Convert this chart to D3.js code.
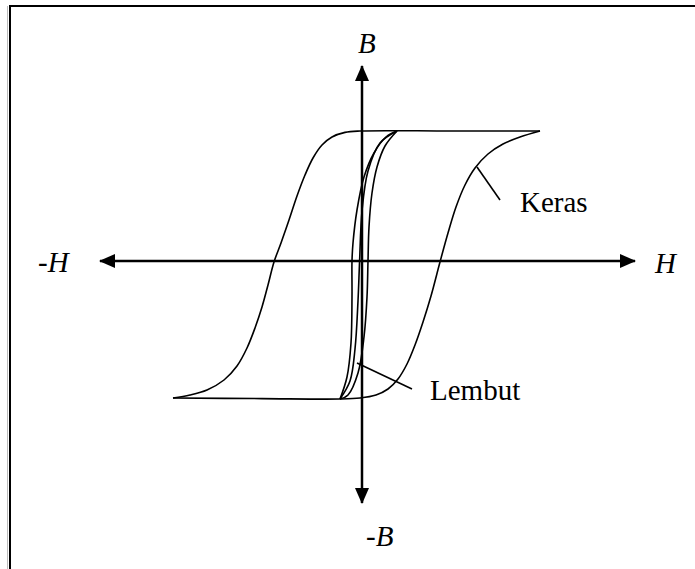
<!DOCTYPE html>
<html>
<head>
<meta charset="utf-8">
<script src="https://cdn.jsdelivr.net/npm/d3@7"></script>
<style>
  body { margin: 0; background: #fff; }
  svg { display: block; }
  .lbl { font-family: "Liberation Serif", "Times New Roman", serif; font-size: 29px; fill: #000; }
</style>
</head>
<body>
<svg id="chart" width="695" height="569"></svg>
<script>
// H (x) and B (y) in arbitrary units
const axisExtent = { hMin: -13.1, hMax: 13.65, bMin: -12.1, bMax: 9.75 }

// hard material ("Keras"): wide loop
// upper stroke: right tip -> along saturation -> down the left side
const hardTopH = [8.9, 4.4, -0.1, -0.85, -1.5, -2.0, -2.45, -2.85, -3.25, -3.65, -4.05, -4.4, -4.7, -5.0, -5.35, -5.75, -6.25, -6.9, -7.75, -8.6, -9.45]
const hardTopB = [6.5, 6.5, 6.5, 6.43, 6.2, 5.8, 5.15, 4.3, 3.25, 2.05, 0.9, -0.05, -1.2, -2.3, -3.35, -4.35, -5.25, -5.95, -6.45, -6.7, -6.85]
// lower stroke: left tip -> along saturation -> up the right side
const hardBotH = [-9.45, -5.0, -1.1, -0.1, 0.7, 1.3, 1.8, 2.25, 2.65, 3.05, 3.45, 3.9, 4.3, 4.7, 5.15, 5.65, 6.3, 7.05, 7.9, 8.9]
const hardBotB = [-6.85, -6.88, -6.9, -6.85, -6.7, -6.4, -5.9, -5.15, -4.2, -3.05, -1.75, -0.05, 1.4, 2.7, 3.8, 4.65, 5.35, 5.85, 6.2, 6.5]

// soft material ("Lembut"): narrow loop, three strokes
const softLeftH = [1.75, 1.2, 0.6, 0.1, -0.25, -0.45, -0.5, -0.5, -0.55, -0.75, -1.1]
const softLeftB = [6.5, 6.2, 5.4, 4.2, 2.55, 0.9, 0.0, -1.8, -4.1, -5.8, -6.9]
const softMidH = [-1.1, -0.6, -0.35, -0.2, -0.12, 0.0, 0.3, 0.9, 1.75]
const softMidB = [-6.9, -6.0, -4.4, -2.0, 0.0, 2.5, 4.5, 5.9, 6.5]
const softRightH = [-1.1, -0.7, -0.2, 0.1, 0.25, 0.3, 0.35, 0.5, 0.75, 1.15, 1.75]
const softRightB = [-6.9, -6.7, -5.6, -3.8, -1.8, 0.0, 1.7, 3.4, 4.7, 5.75, 6.5]

// leader lines [H1, B1, H2, B2]
const leaderKeras = [5.75, 4.7, 6.9, 3.05]
const leaderLembut = [-0.25, -5.1, 2.5, -6.4]

const labels = [
  { text: "B", h: -0.2, b: 10.4, italic: true },
  { text: "-B", h: 0.2, b: -14.25, italic: true },
  { text: "-H", h: -16.2, b: -0.55, italic: true },
  { text: "H", h: 14.65, b: -0.6, italic: true },
  { text: "Keras", h: 7.9, b: 2.45, italic: false },
  { text: "Lembut", h: 3.4, b: -6.95, italic: false }
]

const svg = d3.select("#chart")

// frame
svg.append("rect")
  .attr("x", 10).attr("y", 6)
  .attr("width", 700).attr("height", 600)
  .attr("fill", "none").attr("stroke", "#000").attr("stroke-width", 2)
svg.append("line")
  .attr("x1", 7.5).attr("y1", 6).attr("x2", 7.5).attr("y2", 569)
  .attr("stroke", "#bbb").attr("stroke-width", 1)

// 20 px per unit, origin at (362, 261)
const xScale = d3.scaleLinear().domain([-10, 10]).range([162, 562])
const yScale = d3.scaleLinear().domain([-10, 10]).range([461, 61])

const defs = svg.append("defs")
defs.append("marker")
  .attr("id", "arrow")
  .attr("viewBox", "0 0 16 14")
  .attr("refX", 15).attr("refY", 7)
  .attr("markerUnits", "userSpaceOnUse")
  .attr("markerWidth", 16).attr("markerHeight", 14)
  .attr("orient", "auto")
  .append("path")
  .attr("d", "M0,0 L16,7 L0,14 Z")
  .attr("fill", "#000")

const axisG = svg.append("g")
// horizontal axis, arrow at both ends
axisG.append("line")
  .attr("x1", xScale(0)).attr("y1", yScale(0))
  .attr("x2", xScale(axisExtent.hMax)).attr("y2", yScale(0))
axisG.append("line")
  .attr("x1", xScale(0)).attr("y1", yScale(0))
  .attr("x2", xScale(axisExtent.hMin)).attr("y2", yScale(0))
// vertical axis
axisG.append("line")
  .attr("x1", xScale(0)).attr("y1", yScale(0))
  .attr("x2", xScale(0)).attr("y2", yScale(axisExtent.bMax))
axisG.append("line")
  .attr("x1", xScale(0)).attr("y1", yScale(0))
  .attr("x2", xScale(0)).attr("y2", yScale(axisExtent.bMin))
axisG.selectAll("line")
  .attr("stroke", "#000").attr("stroke-width", 2.5)
  .attr("marker-end", "url(#arrow)")

const line = d3.line()
  .x(d => xScale(d[0]))
  .y(d => yScale(d[1]))
  .curve(d3.curveCatmullRom.alpha(0.5))

const zip = (hs, bs) => hs.map((h, i) => [h, bs[i]])

const curves = [
  zip(hardTopH, hardTopB),
  zip(hardBotH, hardBotB),
  zip(softLeftH, softLeftB),
  zip(softMidH, softMidB),
  zip(softRightH, softRightB)
]

svg.append("g").selectAll("path")
  .data(curves)
  .join("path")
  .attr("d", line)
  .attr("fill", "none")
  .attr("stroke", "#000")
  .attr("stroke-width", 1.6)
  .attr("stroke-linejoin", "round")

svg.append("g").selectAll("line")
  .data([leaderKeras, leaderLembut])
  .join("line")
  .attr("x1", d => xScale(d[0])).attr("y1", d => yScale(d[1]))
  .attr("x2", d => xScale(d[2])).attr("y2", d => yScale(d[3]))
  .attr("stroke", "#000").attr("stroke-width", 1.6)

svg.append("g").selectAll("text")
  .data(labels)
  .join("text")
  .attr("class", "lbl")
  .attr("x", d => xScale(d.h))
  .attr("y", d => yScale(d.b))
  .attr("font-style", d => d.italic ? "italic" : "normal")
  .text(d => d.text)
</script>
</body>
</html>
